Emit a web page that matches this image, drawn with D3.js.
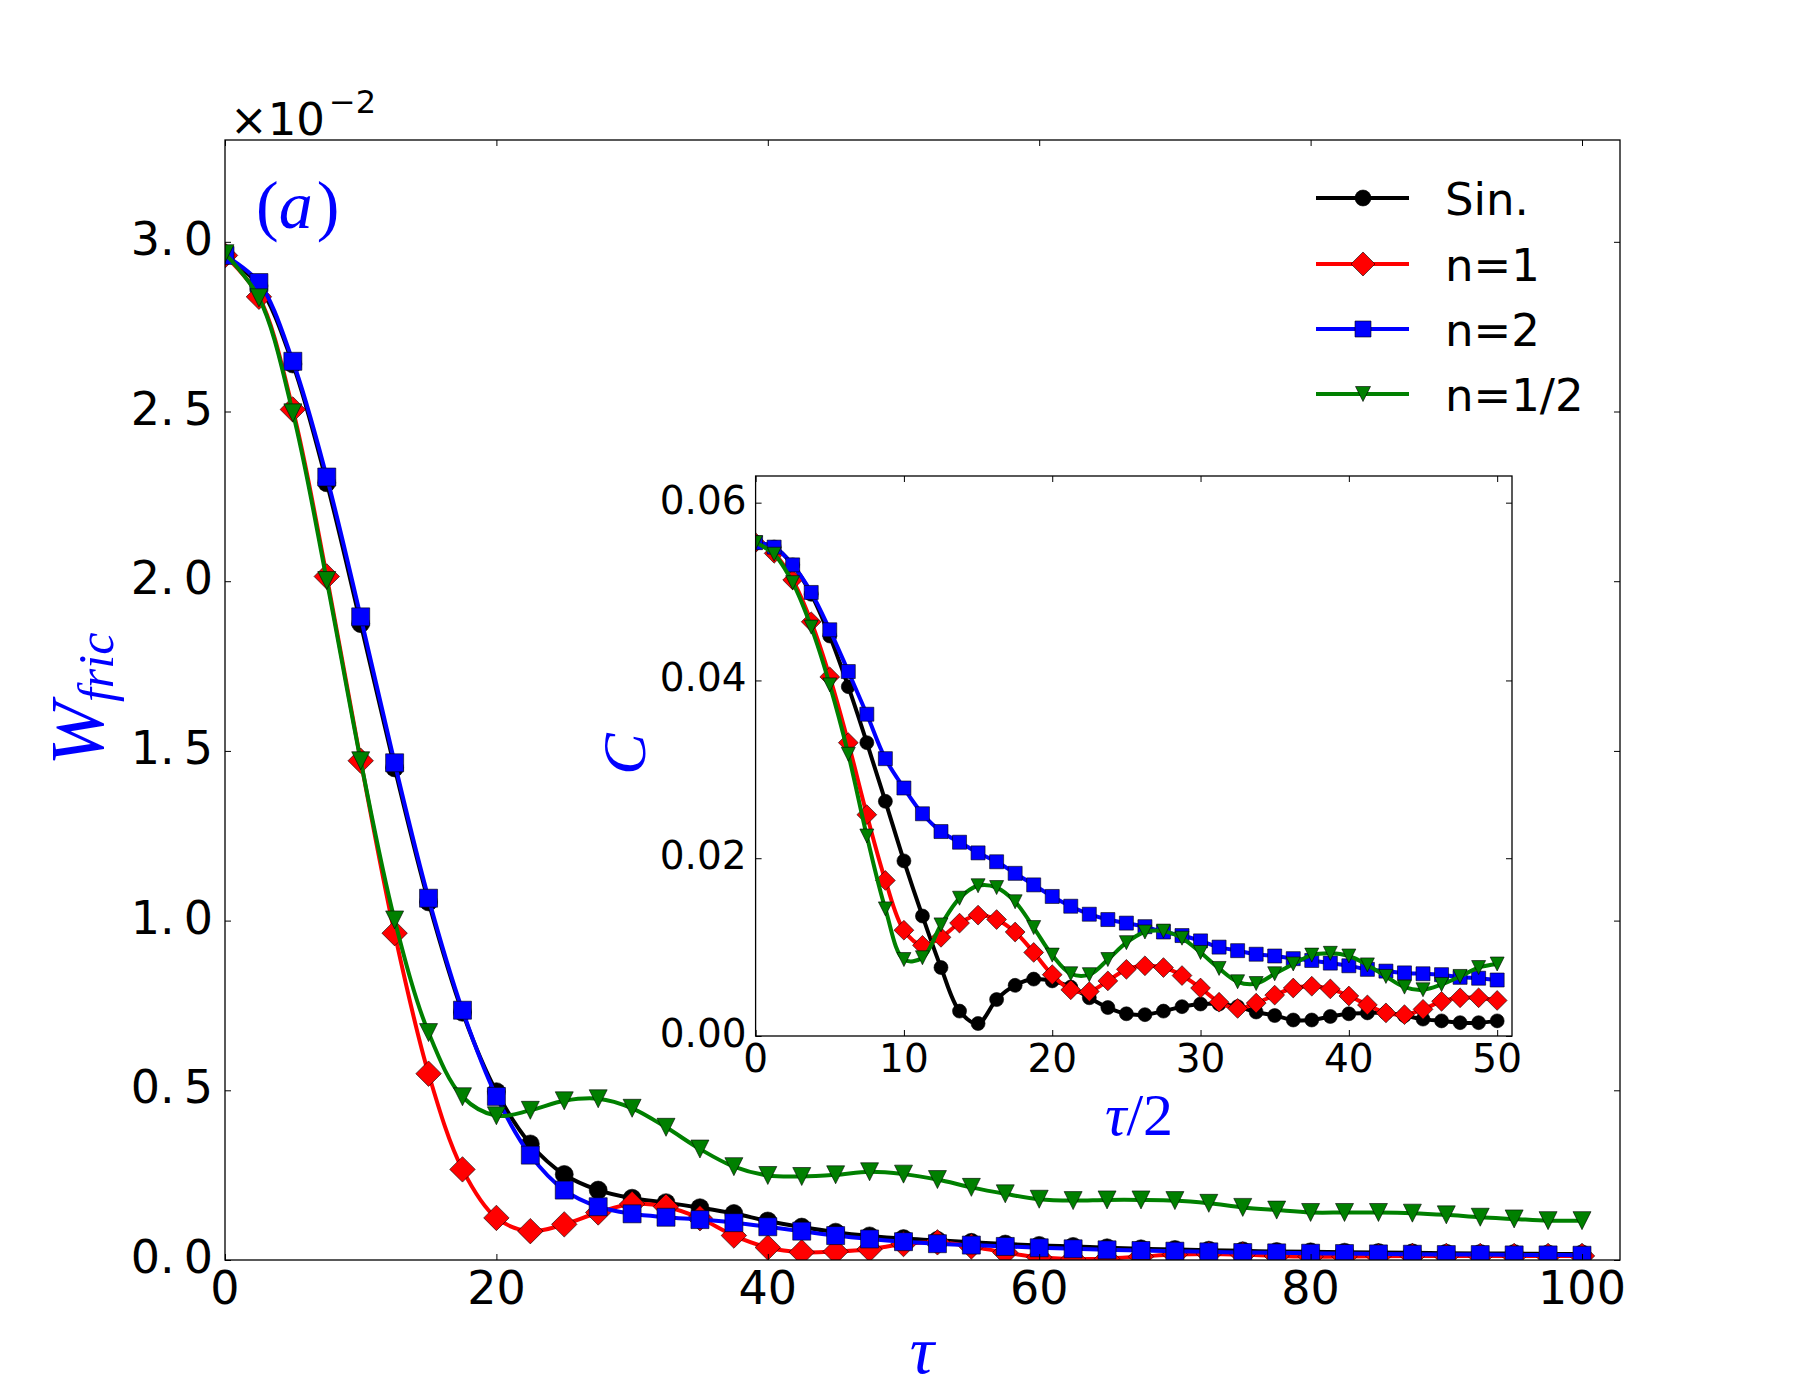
<!DOCTYPE html>
<html><head><meta charset="utf-8">
<script src="https://cdn.jsdelivr.net/npm/d3@7/dist/d3.min.js"></script>
<style>body{margin:0;background:#fff}svg{display:block}</style>
</head><body>
<svg id="c" width="1800" height="1400"></svg>
<script>
// ---------- data ----------
// main panel: tau, W_fric in units of 1e-2
const tauMain = [0,2.5,5,7.5,10,12.5,15,17.5,20,22.5,25,27.5,30,32.5,35,37.5,40,42.5,45,47.5,50,52.5,55,57.5,60,62.5,65,67.5,70,72.5,75,77.5,80,82.5,85,87.5,90,92.5,95,97.5,100];
const wSin  = [2.96,2.87,2.64,2.29,1.875,1.45,1.055,0.73,0.496,0.342,0.252,0.206,0.182,0.169,0.154,0.137,0.115,0.097,0.082,0.071,0.063,0.058,0.052,0.047,0.043,0.040,0.036,0.033,0.031,0.029,0.027,0.025,0.024,0.023,0.022,0.021,0.020,0.019,0.019,0.018,0.018];
const wN1   = [2.96,2.838,2.506,2.014,1.471,0.963,0.549,0.267,0.124,0.085,0.105,0.140,0.165,0.157,0.123,0.072,0.037,0.023,0.025,0.032,0.047,0.052,0.040,0.022,0.008,0.003,0.004,0.010,0.016,0.018,0.016,0.012,0.010,0.010,0.011,0.012,0.012,0.012,0.012,0.012,0.012];
const wN2   = [2.96,2.88,2.648,2.307,1.895,1.465,1.066,0.736,0.482,0.309,0.206,0.157,0.136,0.126,0.119,0.110,0.098,0.085,0.072,0.062,0.054,0.048,0.044,0.040,0.036,0.033,0.030,0.028,0.026,0.024,0.022,0.021,0.020,0.019,0.018,0.017,0.016,0.016,0.015,0.015,0.014];
const wNh   = [2.965,2.835,2.496,2.002,1.471,1.002,0.670,0.481,0.425,0.441,0.469,0.475,0.447,0.391,0.327,0.275,0.249,0.246,0.251,0.260,0.253,0.237,0.214,0.195,0.179,0.175,0.177,0.177,0.175,0.167,0.155,0.147,0.140,0.140,0.140,0.138,0.133,0.126,0.121,0.116,0.116];
// inset: tau/2, C
const tauInset = [0,1.25,2.5,3.75,5,6.25,7.5,8.75,10,11.25,12.5,13.75,15,16.25,17.5,18.75,20,21.25,22.5,23.75,25,26.25,27.5,28.75,30,31.25,32.5,33.75,35,36.25,37.5,38.75,40,41.25,42.5,43.75,45,46.25,47.5,48.75,50];
const cSin = [0.0555,0.0550,0.0530,0.0497,0.0450,0.0393,0.0330,0.0264,0.0197,0.0135,0.0077,0.0028,0.0014,0.0041,0.0057,0.0064,0.0062,0.0055,0.0043,0.0032,0.0025,0.0024,0.0028,0.0033,0.0036,0.0036,0.0033,0.0027,0.0023,0.0018,0.0018,0.0022,0.0025,0.0026,0.0026,0.0023,0.0019,0.0017,0.0015,0.0015,0.0017];
const cN1  = [0.0555,0.0543,0.0513,0.0466,0.0404,0.0330,0.0249,0.0175,0.0119,0.0102,0.0111,0.0127,0.0136,0.0131,0.0117,0.0094,0.0069,0.0052,0.0050,0.0062,0.0075,0.0079,0.0077,0.0068,0.0054,0.0038,0.0031,0.0037,0.0046,0.0054,0.0056,0.0053,0.0045,0.0035,0.0026,0.0024,0.0030,0.0039,0.0043,0.0043,0.0040];
const cN2  = [0.0555,0.0550,0.0530,0.0499,0.0457,0.0410,0.0362,0.0312,0.0279,0.0250,0.0230,0.0218,0.0206,0.0196,0.0183,0.0170,0.0157,0.0146,0.0137,0.0131,0.0127,0.0123,0.0117,0.0113,0.0107,0.0100,0.0096,0.0092,0.0090,0.0087,0.0085,0.0082,0.0079,0.0075,0.0073,0.0071,0.0070,0.0069,0.0066,0.0065,0.0063];
const cNh  = [0.0555,0.0542,0.0510,0.0460,0.0395,0.0317,0.0225,0.0143,0.0086,0.0088,0.0125,0.0155,0.0169,0.0167,0.0151,0.0122,0.0091,0.0070,0.0069,0.0086,0.0105,0.0117,0.0118,0.0110,0.0094,0.0076,0.0061,0.0059,0.0070,0.0081,0.0091,0.0093,0.0090,0.0080,0.0067,0.0055,0.0052,0.0058,0.0067,0.0077,0.0081];

const seriesNames = ["Sin.","n=1","n=2","n=1/2"];
const seriesColors = ["#000000","#ff0000","#0000ff","#008000"];
const seriesMarkers = ["circle","diamond","square","tri"];
const mainTicksX = [0,20,40,60,80,100];
const mainTicksY = [0,0.5,1.0,1.5,2.0,2.5,3.0];
const insetTicksX = [0,10,20,30,40,50];
const insetTicksY = [0,0.02,0.04,0.06];

// ---------- layout ----------
const svg = d3.select('#c');
const M = {l:225, r:1620, t:140, b:1260};
const I = {l:755.6, r:1512, t:476, b:1036};
const xM = d3.scaleLinear().domain([0,102.8]).range([M.l,M.r]);
const yM = d3.scaleLinear().domain([0,3.3]).range([M.b,M.t]);
const xI = d3.scaleLinear().domain([0,51]).range([I.l,I.r]);
const yI = d3.scaleLinear().domain([0,0.063]).range([I.b,I.t]);
const SANS = "'DejaVu Sans', sans-serif";
const SERIF = "'Liberation Serif', 'DejaVu Serif', serif";
const BLUE = "#0000ff";

function markerPath(type, m){
  const h = m/2;
  if(type==='circle') return `M${h},0A${h},${h},0,1,1,${-h},0A${h},${h},0,1,1,${h},0Z`;
  if(type==='square') return `M${-h},${-h}H${h}V${h}H${-h}Z`;
  if(type==='diamond'){const d=m*Math.SQRT1_2; return `M0,${-d}L${d},0L0,${d}L${-d},0Z`;}
  return `M0,${h}L${-h},${-h}L${h},${-h}Z`;
}

const defs = svg.append('defs');
defs.append('clipPath').attr('id','clipM').append('rect')
  .attr('x',M.l).attr('y',M.t).attr('width',M.r-M.l).attr('height',M.b-M.t);
defs.append('clipPath').attr('id','clipI').append('rect')
  .attr('x',I.l).attr('y',I.t).attr('width',I.r-I.l).attr('height',I.b-I.t);

function drawTicks(B, xS, yS, xt, yt, tick){
  const g = svg.append('g');
  const ax = [
    [d3.axisBottom(xS).tickValues(xt), `translate(0,${B.b})`],
    [d3.axisTop(xS).tickValues(xt), `translate(0,${B.t})`],
    [d3.axisLeft(yS).tickValues(yt), `translate(${B.l},0)`],
    [d3.axisRight(yS).tickValues(yt), `translate(${B.r},0)`]
  ];
  ax.forEach(([a,tr])=>{
    const gg = g.append('g').attr('transform',tr).call(a.tickSize(-tick).tickFormat(''));
    gg.select('.domain').remove();
    gg.selectAll('line').attr('stroke','#000').attr('stroke-width',1);
  });
  g.append('rect').attr('x',B.l).attr('y',B.t).attr('width',B.r-B.l).attr('height',B.b-B.t)
    .attr('fill','none').attr('stroke','#000').attr('stroke-width',1.3);
  return g;
}

function drawSeries(xs, ysList, xS, yS, clip, msize){
  const g = svg.append('g').attr('clip-path',`url(#${clip})`);
  ysList.forEach((ys,i)=>{
    const pts = xs.map((x,j)=>[x,ys[j]]);
    const line = d3.line().x(d=>xS(d[0])).y(d=>yS(d[1])).curve(d3.curveCatmullRom.alpha(0.5));
    g.append('path').attr('d',line(pts)).attr('fill','none')
      .attr('stroke',seriesColors[i]).attr('stroke-width',4).attr('stroke-linejoin','round');
    g.selectAll(null).data(pts).enter().append('path')
      .attr('transform',d=>`translate(${xS(d[0])},${yS(d[1])})`)
      .attr('d',markerPath(seriesMarkers[i], msize))
      .attr('fill',seriesColors[i]).attr('stroke','#000').attr('stroke-width',0.6);
  });
}

// ---------- main panel ----------
svg.append('rect').attr('x',M.l).attr('y',M.t).attr('width',M.r-M.l).attr('height',M.b-M.t).attr('fill','#fff');
drawSeries(tauMain,[wSin,wN1,wN2,wNh],xM,yM,'clipM',18);
drawTicks(M,xM,yM,mainTicksX,mainTicksY,6);

// main tick labels
const mt = svg.append('g').attr('font-family',SANS).attr('font-size',46).attr('fill','#000');
mt.selectAll(null).data(mainTicksX).enter().append('text')
  .attr('x',d=>xM(d)).attr('y',M.b+44).attr('text-anchor','middle').text(d=>d3.format('d')(d));
mainTicksY.forEach(v=>{
  const s = d3.format('.1f')(v).split('.');
  const t = mt.append('text').attr('x',M.l-12).attr('y',yM(v)+13).attr('text-anchor','end');
  t.append('tspan').text(s[0]+'.');
  t.append('tspan').attr('dx',9).text(s[1]);
});
// offset text
const off = svg.append('text').attr('x',230).attr('y',135).attr('font-family',SANS).attr('font-size',45).attr('fill','#000');
off.append('tspan').text('\u00d710');
off.append('tspan').attr('dx',4).attr('dy',-22).attr('font-size',32).text('\u22122');

// (a)
const pa = svg.append('text').attr('x',256).attr('y',228).attr('font-family',SERIF).attr('font-size',68).attr('fill',BLUE);
pa.append('tspan').text('(');
pa.append('tspan').attr('font-style','italic').text('a');
pa.append('tspan').attr('dx',4).text(')');

// axis labels
const wl = svg.append('text').attr('transform','translate(103,699) rotate(-90)')
  .attr('text-anchor','middle').attr('font-family',SERIF).attr('font-style','italic').attr('fill',BLUE);
wl.append('tspan').attr('font-size',76).text('W');
wl.append('tspan').attr('font-size',50).attr('dy',10).text('fric');
svg.append('text').attr('x',922).attr('y',1373).attr('text-anchor','middle')
  .attr('font-family',SERIF).attr('font-style','italic').attr('font-size',68).attr('fill',BLUE).text('\u03c4');

// legend
const lg = svg.append('g');
const rowsY = [198,264,329,394];
const legSize = [16,17,16,15];
seriesNames.forEach((n,i)=>{
  const y = rowsY[i];
  lg.append('line').attr('x1',1316).attr('x2',1409).attr('y1',y).attr('y2',y)
    .attr('stroke',seriesColors[i]).attr('stroke-width',4);
  lg.append('path').attr('transform',`translate(1363,${y})`).attr('d',markerPath(seriesMarkers[i],legSize[i]))
    .attr('fill',seriesColors[i]).attr('stroke','#000').attr('stroke-width',0.6);
  lg.append('text').attr('x',1445).attr('y',y+17).attr('font-family',SANS).attr('font-size',45)
    .attr('fill','#000').text(n);
});

// ---------- inset ----------
svg.append('rect').attr('x',I.l).attr('y',I.t).attr('width',I.r-I.l).attr('height',I.b-I.t).attr('fill','#fff');
drawSeries(tauInset,[cSin,cN1,cN2,cNh],xI,yI,'clipI',14);
drawTicks(I,xI,yI,insetTicksX,insetTicksY,6);
const it = svg.append('g').attr('font-family',SANS).attr('font-size',39).attr('fill','#000');
it.selectAll(null).data(insetTicksX).enter().append('text')
  .attr('x',d=>xI(d)).attr('y',I.b+36).attr('text-anchor','middle').text(d=>d3.format('d')(d));
it.selectAll(null).data(insetTicksY).enter().append('text')
  .attr('x',I.l-9).attr('y',d=>yI(d)+11).attr('text-anchor','end').text(d=>d3.format('.2f')(d));
svg.append('text').attr('transform','translate(645,754) rotate(-90)').attr('text-anchor','middle')
  .attr('font-family',SERIF).attr('font-style','italic').attr('font-size',62).attr('fill',BLUE).text('C');
const tl = svg.append('text').attr('x',1139).attr('y',1135).attr('text-anchor','middle')
  .attr('font-family',SERIF).attr('font-size',60).attr('fill',BLUE);
tl.append('tspan').attr('font-style','italic').text('\u03c4');
tl.append('tspan').text('/2');
</script>
</body></html>
